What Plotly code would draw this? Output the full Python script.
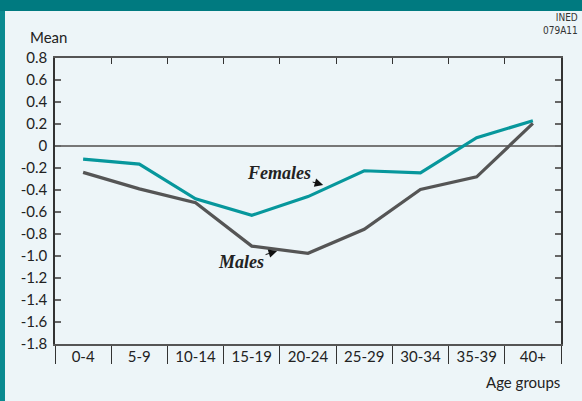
import plotly.graph_objects as go

age_groups = ["0-4", "5-9", "10-14", "15-19", "20-24", "25-29", "30-34", "35-39", "40+"]
females = [-0.12, -0.165, -0.48, -0.63, -0.46, -0.225, -0.245, 0.075, 0.23]
males = [-0.24, -0.39, -0.515, -0.91, -0.975, -0.757, -0.395, -0.28, 0.205]
y_tickvals = [0.8, 0.6, 0.4, 0.2, 0, -0.2, -0.4, -0.6, -0.8, -1.0, -1.2, -1.4, -1.6, -1.8]
y_ticktext = ["0.8", "0.6", "0.4", "0.2", "0", "-0.2", "-0.4", "-0.6", "-0.8", "-1.0",
              "-1.2", "-1.4", "-1.6", "-1.8"]

W, H = 582, 401
ML, MR, MT, MB = 55, 21, 58, 57
PW, PH = W - ML - MR, H - MT - MB

def px_x(p):
    return (p - ML) / PW

def px_y(p):
    return (H - MB - p) / PH

TEAL = "#07979c"
GREY = "#555555"
BG = "#edf5f8"
AXC = "#555555"
FONT = "Lato, Open Sans, sans-serif"

fig = go.Figure()
fig.add_trace(go.Scatter(x=age_groups, y=females, mode="lines", name="Females",
                         line=dict(color=TEAL, width=3.2), hoverinfo="skip"))
fig.add_trace(go.Scatter(x=age_groups, y=males, mode="lines", name="Males",
                         line=dict(color=GREY, width=3.2), hoverinfo="skip"))
# invisible trace to drive the top (inside-tick) axis
fig.add_trace(go.Scatter(x=age_groups, y=[None] * len(age_groups), xaxis="x2",
                         mode="lines", showlegend=False, hoverinfo="skip"))

fig.update_layout(
    width=W, height=H,
    margin=dict(l=ML, r=MR, t=MT, b=MB),
    paper_bgcolor=BG, plot_bgcolor=BG,
    showlegend=False,
    font=dict(family=FONT, size=15, color="#222222"),
    xaxis=dict(type="category", range=[-0.5, 8.5], tickson="boundaries",
               ticks="outside", ticklen=18, tickwidth=1, tickcolor="#333333",
               showline=True, linecolor=AXC, linewidth=1.5, mirror=False,
               showgrid=False, zeroline=False, tickfont=dict(size=15, color="#222222"),
               ticklabelstandoff=-2, fixedrange=True),
    xaxis2=dict(type="category", range=[-0.5, 8.5], tickson="boundaries",
                overlaying="x", side="top", ticks="inside", ticklen=6, tickwidth=1,
                tickcolor="#333333", showticklabels=False, showline=True,
                linecolor=AXC, linewidth=1.5, showgrid=False, zeroline=False,
                fixedrange=True),
    yaxis=dict(range=[-1.8, 0.8], tickvals=y_tickvals, ticktext=y_ticktext,
               ticks="inside", ticklen=6, tickwidth=1.5, tickcolor="#666666",
               showline=True, linecolor="#333333", linewidth=1.5, mirror="ticks",
               showgrid=False, zeroline=True, zerolinecolor="#777777", zerolinewidth=1.5,
               tickfont=dict(size=15, color="#222222"), ticklabelstandoff=3,
               fixedrange=True),
)

shapes = [
    dict(type="rect", xref="paper", yref="paper", x0=px_x(0), x1=px_x(W),
         y0=px_y(11), y1=px_y(0), fillcolor="#007a80", line=dict(width=0), layer="below"),
    dict(type="rect", xref="paper", yref="paper", x0=px_x(0), x1=px_x(5),
         y0=px_y(H), y1=px_y(11), fillcolor="#0a8a90", line=dict(width=0), layer="below"),
]
fig.update_layout(shapes=shapes)

ann = [
    dict(text="Mean", xref="paper", yref="paper", x=px_x(28), y=px_y(37),
         xanchor="left", yanchor="middle", showarrow=False,
         font=dict(family=FONT, size=15, color="#222222")),
    dict(text="Age groups", xref="paper", yref="paper", x=px_x(562), y=px_y(382),
         xanchor="right", yanchor="middle", showarrow=False,
         font=dict(family=FONT, size=15, color="#222222")),
    dict(text="INED<br>079A11", xref="paper", yref="paper", x=px_x(580), y=px_y(24),
         xanchor="right", yanchor="middle", align="right", showarrow=False,
         font=dict(family="Liberation Sans Narrow, DejaVu Sans Condensed, sans-serif",
                   size=10, color="#333333")),
    dict(text="<b><i>Females</i></b>", x=4.27, y=-0.354, xref="x", yref="y",
         ax=-44, ay=-12, showarrow=True, arrowhead=2, arrowsize=1.7, arrowwidth=1,
         arrowcolor="#111111", standoff=0,
         font=dict(family="Liberation Serif, DejaVu Serif, serif", size=18, color="#222222")),
    dict(text="<b><i>Males</i></b>", x=3.45, y=-0.955, xref="x", yref="y",
         ax=-36, ay=11, showarrow=True, arrowhead=2, arrowsize=1.7, arrowwidth=1,
         arrowcolor="#111111", standoff=0,
         font=dict(family="Liberation Serif, DejaVu Serif, serif", size=18, color="#222222")),
]
fig.update_layout(annotations=ann)

fig.write_html("out.html", config=dict(displayModeBar=False),
               post_script="document.body.style.margin='0';document.body.style.background='" + BG + "';")
